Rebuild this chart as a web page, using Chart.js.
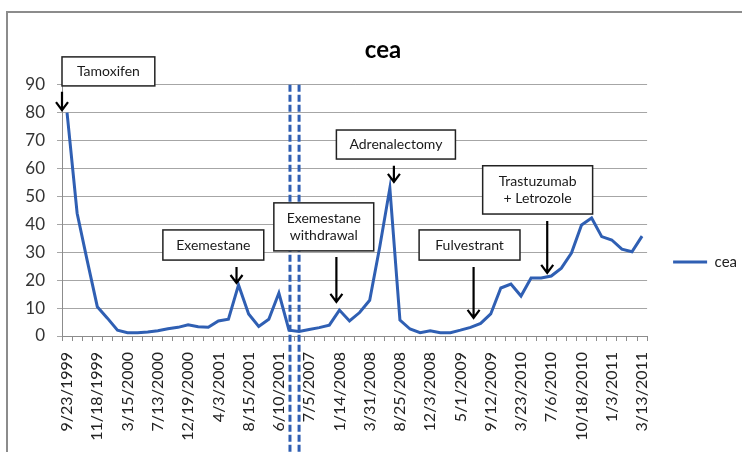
<!DOCTYPE html>
<html>
<head>
<meta charset="utf-8">
<script src="https://cdn.jsdelivr.net/npm/chart.js@4.4.0/dist/chart.umd.min.js"></script>
<style>
html, body { margin: 0; padding: 0; background: #fff; }
#wrap { position: relative; width: 742px; height: 452px; overflow: hidden; }
#frame { position: absolute; left: 6px; top: 11px; width: 800px; height: 500px; border: 2px solid #8c8c8c; }
canvas { position: absolute; left: 0; top: 0; }
</style>
</head>
<body>
<div id="wrap">
  <div id="frame"></div>
  <canvas id="cea" width="742" height="452"></canvas>
</div>
<script>
// labelled every third category, like the original sheet
const tickLabels = ['9/23/1999', '11/18/1999', '3/15/2000', '7/13/2000', '12/19/2000', '4/3/2001',
  '8/15/2001', '6/10/2001', '7/5/2007', '1/14/2008', '3/31/2008', '8/25/2008', '12/3/2008',
  '5/1/2009', '9/12/2009', '3/23/2010', '7/6/2010', '10/18/2010', '1/3/2011', '3/13/2011'];

const ceaValues = [80, 44, 27, 10.5, 6.4, 2.1, 1.2, 1.2, 1.4, 1.9,
  2.6, 3.1, 4.0, 3.3, 3.1, 5.4, 6.0, 18.3, 7.9, 3.4,
  6.0, 15.4, 2.1, 1.6, 2.3, 3.0, 3.9, 9.3, 5.4, 8.4,
  12.8, 32, 53, 5.7, 2.5, 1.2, 1.9, 1.2, 1.2, 2.1,
  3.1, 4.5, 7.9, 17.2, 18.6, 14.3, 20.8, 20.8, 21.5, 24.3,
  29.7, 39.8, 42.3, 35.6, 34.4, 31.1, 30.2, 35.8];

const yTicks = [0, 10, 20, 30, 40, 50, 60, 70, 80, 90];

// treatment notes: box [x from, x to, y top, y bottom], arrow [x, y from, y to] in data units
const notes = [
  { text: ['Tamoxifen'], box: [-0.5, 8.7, 100, 89.6], arrow: [-0.5, 87.5, 80.9] },
  { text: ['Exemestane'], box: [9.5, 19.5, 38, 27.2], arrow: [16.8, 24.7, 19] },
  { text: ['Exemestane', 'withdrawal'], box: [20.5, 30.4, 47.7, 30.5], arrow: [26.7, 28.3, 12.2] },
  { text: ['Adrenalectomy'], box: [26.7, 38.5, 73.8, 63.4], arrow: [32.4, 61, 55.2] },
  { text: ['Fulvestrant'], box: [34.9, 44.9, 38, 27.2], arrow: [40.3, 24.7, 6.5] },
  { text: ['Trastuzumab', '+ Letrozole'], box: [41.2, 52.1, 61, 43.7], arrow: [47.6, 41.2, 22.6] }
];
const breakAt = [22.1, 23.0];

const labels = ceaValues.map((v, i) => (i % 3 === 0 ? tickLabels[i / 3] : ''));
const blue = '#2f5fb3';

const notesPlugin = {
  id: 'notes',
  afterDatasetsDraw(chart) {
    const { ctx, scales: { x, y }, chartArea } = chart;
    const px = v => x.left + (v + 0.5) * (x.width / labels.length);
    ctx.save();
    // axis break
    ctx.strokeStyle = blue;
    ctx.lineWidth = 3;
    ctx.setLineDash([7, 3]);
    breakAt.forEach(b => {
      ctx.beginPath();
      ctx.moveTo(px(b), chartArea.top);
      ctx.lineTo(px(b), chart.height);
      ctx.stroke();
    });
    ctx.setLineDash([]);
    notes.forEach(n => {
      const l = px(n.box[0]), r = px(n.box[1]);
      const t = y.getPixelForValue(n.box[2]), b = y.getPixelForValue(n.box[3]);
      ctx.fillStyle = '#fff';
      ctx.fillRect(l, t, r - l, b - t);
      ctx.strokeStyle = '#222';
      ctx.lineWidth = 1.5;
      ctx.strokeRect(l, t, r - l, b - t);
      ctx.fillStyle = '#1a1a1a';
      ctx.font = '14px Lato';
      ctx.textAlign = 'center';
      ctx.textBaseline = 'middle';
      const lh = 17;
      const cy = (t + b) / 2 - (n.text.length - 1) * lh / 2;
      n.text.forEach((s, i) => ctx.fillText(s, (l + r) / 2, cy + i * lh));
      const ax = px(n.arrow[0]);
      const a0 = y.getPixelForValue(n.arrow[1]), a1 = y.getPixelForValue(n.arrow[2]);
      ctx.strokeStyle = '#000';
      ctx.lineWidth = 2.2;
      ctx.beginPath();
      ctx.moveTo(ax, a0);
      ctx.lineTo(ax, a1);
      ctx.moveTo(ax - 6, a1 - 8);
      ctx.lineTo(ax, a1);
      ctx.lineTo(ax + 6, a1 - 8);
      ctx.stroke();
    });
    ctx.restore();
  }
};

new Chart(document.getElementById('cea').getContext('2d'), {
  type: 'line',
  data: {
    labels: labels,
    datasets: [{
      label: 'cea',
      data: ceaValues,
      borderColor: blue,
      backgroundColor: blue,
      borderWidth: 3,
      pointRadius: 0,
      tension: 0
    }]
  },
  options: {
    responsive: false,
    animation: false,
    layout: { padding: { left: 19, right: -5, top: 0, bottom: 0 } },
    plugins: {
      title: {
        display: true,
        text: 'cea',
        color: '#000',
        font: { family: 'Lato', size: 24, weight: 'bold' },
        padding: { top: 36, bottom: 20 }
      },
      legend: {
        position: 'right',
        title: { display: true, text: ' ', font: { size: 10 }, padding: { top: 60, bottom: 0 } },
        labels: {
          usePointStyle: true,
          pointStyle: 'line',
          pointStyleWidth: 34,
          color: '#222',
          font: { family: 'Lato', size: 15 },
          padding: 26
        }
      },
      tooltip: { enabled: false }
    },
    scales: {
      x: {
        offset: true,
        afterFit: s => { s.height = 116; },
        grid: { display: true, drawOnChartArea: false, offset: true, tickLength: 5, color: '#8c8c8c' },
        border: { color: '#8c8c8c' },
        ticks: {
          autoSkip: false,
          minRotation: 90,
          maxRotation: 90,
          padding: 11,
          color: '#222',
          font: { family: 'Lato', size: 16 }
        }
      },
      y: {
        min: 0,
        max: 90,
        afterFit: s => { s.width = 43; },
        afterBuildTicks: s => { s.ticks = yTicks.map(v => ({ value: v })); },
        grid: { color: '#a6a6a6', tickLength: 5 },
        border: { color: '#8c8c8c' },
        ticks: {
          padding: 12,
          color: '#333',
          font: { family: 'Lato', size: 17 }
        }
      }
    }
  },
  plugins: [notesPlugin]
});
</script>
</body>
</html>
